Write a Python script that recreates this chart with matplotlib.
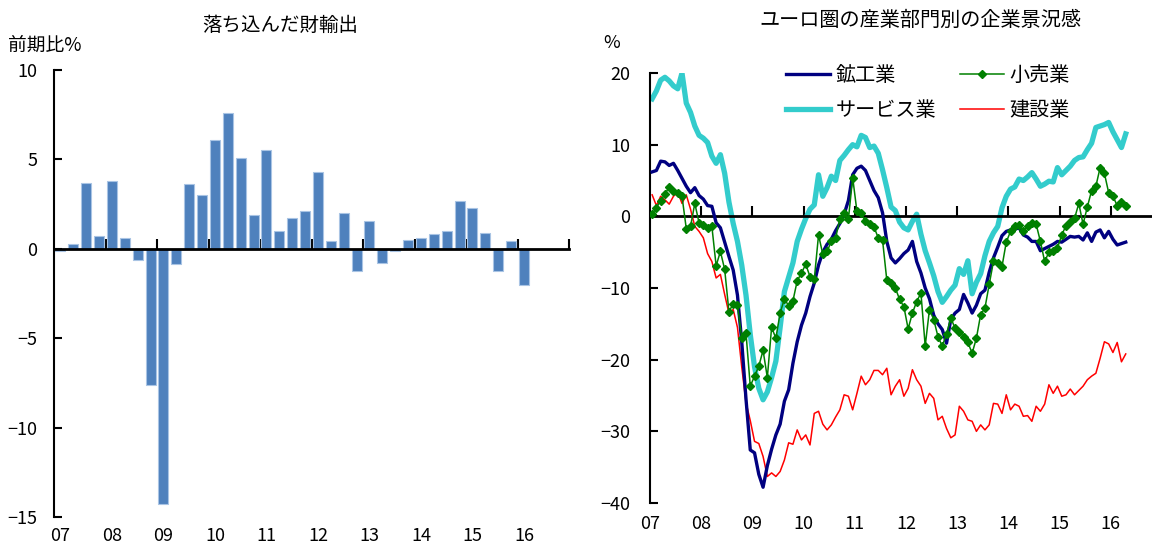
import numpy as np
import matplotlib
matplotlib.use("Agg")
import matplotlib.pyplot as plt
import matplotlib.transforms as mtransforms
from matplotlib.lines import Line2D

plt.rcParams['font.family'] = ['Noto Sans CJK JP', 'DejaVu Sans']

# left panel: quarterly goods exports, % q/q (2007Q1 - 2016Q1)
year_labels = ["07", "08", "09", "10", "11", "12", "13", "14", "15", "16"]
exports_qoq = [
    -0.1, 0.25, 3.7, 0.7, 3.8, 0.6, -0.6, -7.6, -14.3, -0.85,
    3.6, 3.0, 6.1, 7.6, 5.1, 1.9, 5.5, 1.0, 1.7, 2.1,
    4.3, 0.45, 2.0, -1.25, 1.55, -0.8, -0.1, 0.5, 0.6, 0.8,
    1.0, 2.7, 2.3, 0.9, -1.25, 0.45, -2.0,
]

# right panel: euro area business confidence by sector, monthly 2007-01 .. 2016-04
mining = [
    6.2, 6.4, 7.7, 7.6, 7.1, 7.4, 6.4, 5.3, 4.2, 3.3,
    4.0, 2.9, 2.4, 1.5, 1.4, -0.9, -1.6, -3.6, -5.6, -7.5,
    -11.0, -17.5, -25.5, -32.6, -33.0, -36.0, -37.8, -34.8, -32.5, -30.5,
    -29.0, -25.8, -24.2, -20.5, -17.5, -15.2, -13.5, -11.2, -9.3, -6.8,
    -5.0, -3.9, -3.2, -2.0, -1.0, 0.3, 2.2, 5.8, 6.7, 7.0,
    6.4, 5.0, 3.6, 2.6, 0.5, -3.5, -5.8, -6.5, -5.9, -5.2,
    -4.7, -3.5, -6.3, -7.9, -10.0, -11.5, -13.8, -15.0, -15.8, -17.7,
    -14.4, -13.5, -13.0, -10.9, -12.1, -13.5, -12.4, -10.8, -10.3, -7.8,
    -5.8, -4.3, -2.7, -2.1, -1.9, -1.8, -1.6, -2.6, -2.9, -3.5,
    -3.5, -4.8, -4.5, -4.2, -3.9, -3.5, -3.6, -3.2, -2.8, -2.9,
    -2.8, -3.3, -2.3, -3.5, -2.2, -1.9, -3.0, -2.1, -3.2, -4.0,
    -3.8, -3.6,
]
services = [
    16.4, 17.5, 19.0, 19.4, 18.9, 18.2, 17.8, 20.0, 15.8, 14.5,
    12.6, 11.3, 10.9, 10.3, 8.4, 7.4, 8.6, 6.0, 2.0, -1.0,
    -3.5, -6.8, -11.0, -16.5, -21.0, -24.0, -25.6, -24.5, -22.5, -20.2,
    -15.5, -10.5, -8.5, -6.5, -3.5, -1.8, -0.3, 1.0, 1.6, 5.8,
    2.8, 4.0, 5.6, 5.0, 7.8, 8.5, 9.3, 10.0, 9.7, 11.3,
    11.0, 9.6, 9.8, 8.8, 6.5, 4.0, 1.3, 0.8, -0.8, -1.6,
    -1.9, -0.7, 0.3, -2.5, -4.8, -6.5, -8.3, -10.5, -12.0, -11.2,
    -10.3, -9.6, -7.3, -8.1, -6.2, -10.8, -9.2, -8.0, -5.5, -3.5,
    -2.3, -1.4, 1.2, 2.8, 3.8, 4.1, 5.2, 5.0, 5.5, 6.1,
    5.2, 4.2, 4.5, 4.9, 4.8, 6.8, 5.8, 6.4, 7.0, 7.8,
    8.2, 8.3, 9.3, 10.2, 12.4, 12.6, 12.8, 13.1, 11.8, 10.7,
    9.6, 11.5,
]
retail = [
    0.3, 1.2, 2.2, 3.1, 4.1, 3.5, 3.3, 2.8, -1.7, -1.4,
    1.8, -0.9, -1.2, -1.6, -1.4, -6.9, -4.9, -7.4, -13.3, -12.2,
    -12.4, -17.0, -16.3, -23.7, -22.3, -20.9, -18.7, -22.5, -15.5, -17.0,
    -13.5, -11.5, -12.5, -11.8, -9.0, -7.9, -6.7, -8.4, -8.8, -2.6,
    -5.3, -4.9, -3.5, -3.0, -0.4, 0.4, -0.4, 5.4, 0.7, 0.4,
    -0.7, -1.0, -1.5, -3.0, -3.3, -8.9, -9.3, -10.0, -11.6, -12.6,
    -15.7, -13.5, -11.9, -10.7, -18.1, -13.0, -14.4, -16.8, -18.1, -16.4,
    -14.2, -15.6, -16.1, -16.8, -17.6, -19.1, -17.0, -13.7, -12.8, -9.5,
    -6.3, -6.5, -7.0, -3.6, -2.1, -1.4, -1.2, -2.0, -1.4, -0.9,
    -1.1, -3.5, -6.3, -5.0, -4.8, -4.4, -2.6, -1.3, -0.8, -0.3,
    1.8, -1.1, 1.3, 3.6, 4.2, 6.8, 6.0, 3.3, 2.8, 1.5,
    2.0, 1.4,
]
construction = [
    3.0, 1.5, 2.8, 2.3, 1.7, 2.8, 3.4, 1.8, 3.0, 1.0,
    -1.4, -2.1, -3.0, -5.2, -6.3, -8.6, -8.1, -10.9, -13.5, -13.0,
    -15.5, -21.0, -26.0, -28.5, -31.4, -31.7, -33.5, -36.3, -35.8, -36.3,
    -35.6, -34.0, -31.6, -31.8, -29.8, -31.2, -30.5, -31.9, -27.5, -27.2,
    -29.0, -29.8, -29.1, -28.0, -27.0, -24.9, -25.1, -27.0, -24.7, -22.3,
    -23.5, -22.8, -21.5, -21.5, -22.1, -21.2, -24.9, -23.7, -22.8, -25.1,
    -24.0, -21.4, -22.8, -23.7, -26.1, -24.7, -25.4, -28.4, -27.9, -29.6,
    -30.9, -30.5, -26.5, -27.2, -28.4, -28.6, -30.0, -29.1, -29.8, -29.1,
    -26.1, -26.2, -27.5, -24.9, -27.0, -26.2, -26.5, -27.9, -27.8, -28.6,
    -26.5, -27.2, -26.2, -23.5, -24.7, -23.7, -25.1, -24.9, -24.1, -24.9,
    -24.3, -23.7, -22.8, -22.3, -21.9, -19.8, -17.5, -17.8, -19.0, -17.6,
    -20.3, -19.2,
]

W, H = 1152, 543
fig = plt.figure(figsize=(W / 100, H / 100), dpi=100)


def box(l, t, r, b):
    # axes rectangle from pixel edges (left, top, right, bottom)
    return [l / W, 1 - b / H, (r - l) / W, (b - t) / H]


def style_axes(ax):
    for s in ("top", "right"):
        ax.spines[s].set_visible(False)
    ax.spines["left"].set_linewidth(1.5)
    ax.spines["bottom"].set_position(("data", 0))
    ax.spines["bottom"].set_linewidth(2.0)
    ax.tick_params(axis="x", direction="in", length=7, width=1.5, labelbottom=False)
    ax.tick_params(axis="y", direction="in", length=6, width=1.5, labelsize=13)


# ---- left: exports
ax1 = fig.add_axes(box(54, 70, 569, 517))
xq = np.arange(len(exports_qoq))
ax1.bar(xq, exports_qoq, width=0.78, color="#4F81BD", edgecolor="#A9C4E4",
        linewidth=0.8, zorder=2)
ax1.set_xlim(-0.5, 39.5)
ax1.set_ylim(-15, 10)
ax1.set_yticks([10, 5, 0, -5, -10, -15])
ax1.set_xticks(np.arange(3.5, 40, 4))
style_axes(ax1)
ax1.tick_params(axis="y", pad=12)
bottom_tr = mtransforms.blended_transform_factory(ax1.transData, fig.transFigure)
for k, lab in enumerate(year_labels):
    ax1.text(4 * k, 1 - 541 / H, lab, transform=bottom_tr,
             ha="center", va="baseline", fontsize=13)
fig.text(280 / W, 1 - 25 / H, "落ち込んだ財輸出", ha="center", va="center", fontsize=14)
fig.text(8 / W, 1 - 45 / H, "前期比%", ha="left", va="center", fontsize=13.5)

# ---- right: business confidence
ax2 = fig.add_axes(box(650, 73, 1152, 503))
xm = 2007 + (np.arange(len(mining)) + 0.5) / 12
ax2.plot(xm, construction, color="#FF0000", lw=1.1, zorder=3)
ax2.plot(xm, mining, color="#000080", lw=2.4, zorder=4)
ax2.plot(xm, services, color="#33CCCC", lw=3.8, zorder=2)
ax2.plot(xm, retail, color="#008000", lw=1.1, marker="D", markersize=4.5, zorder=5)
ax2.set_xlim(2007, 2007 + (W - 650) / 51.2)
ax2.set_ylim(-40, 20)
ax2.set_yticks(np.arange(20, -41, -10))
ax2.set_xticks(np.arange(2008, 2017))
style_axes(ax2)
ax2.tick_params(axis="y", pad=14)
for k, lab in enumerate(year_labels):
    ax2.text(2007 + k, -0.028, lab, transform=ax2.get_xaxis_transform(),
             ha="center", va="top", fontsize=13)
fig.text(920 / W, 1 - 20 / H, "ユーロ圏の産業部門別の企業景況感", ha="center",
         va="center", fontsize=14.5)
fig.text(612 / W, 1 - 43 / H, "%", ha="center", va="center", fontsize=13)

handles = [
    Line2D([], [], color="#000080", lw=2.4),
    Line2D([], [], color="#33CCCC", lw=3.8),
    Line2D([], [], color="#008000", lw=1.1, marker="D", markersize=4.5),
    Line2D([], [], color="#FF0000", lw=1.1),
]
labels = ["鉱工業", "サービス業", "小売業", "建設業"]
fig.legend(handles, labels, ncol=2, loc="upper left",
           bbox_to_anchor=(778 / W, 1 - 57 / H), frameon=False, fontsize=14.5,
           handlelength=2.2, handletextpad=0.25, labelspacing=0.7,
           columnspacing=1.2, borderaxespad=0)

fig.savefig("out.png", dpi=100)
